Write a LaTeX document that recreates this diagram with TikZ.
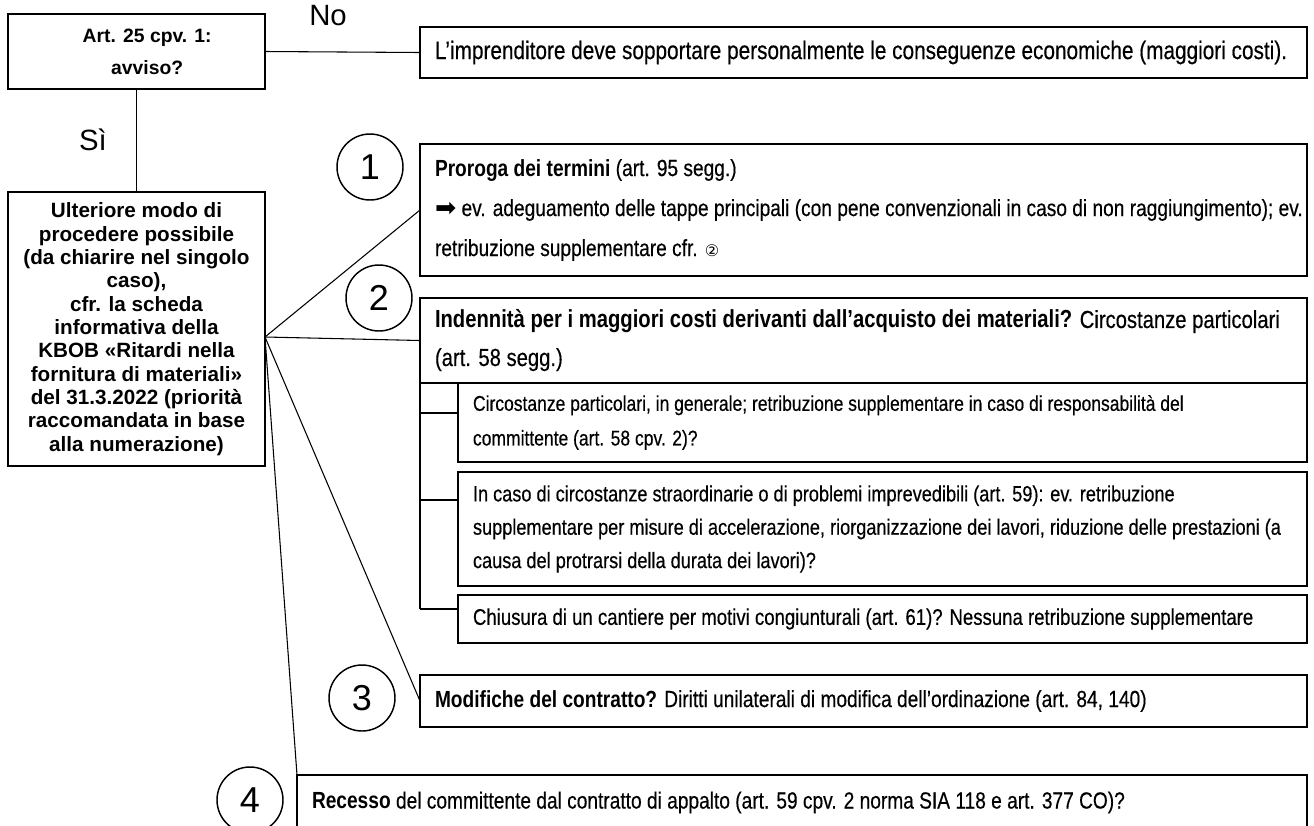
\documentclass[tikz,border=0pt]{standalone}
\usepackage{fontspec}
\setmainfont{Liberation Sans}
\newfontfamily\nar[FakeStretch=0.82, UprightFeatures={FakeBold=0.4}]{Liberation Sans}
\newfontfamily\dvs{DejaVu Sans}
\begin{document}
\begin{tikzpicture}[x=0.75pt,y=-0.75pt,
  every node/.style={inner sep=0pt, outer sep=0pt},
  box/.style={draw, line width=1.1pt, anchor=north west, minimum width=665.25pt},
  subbox/.style={box, minimum width=636.75pt},
  link/.style={line width=0.8pt},
  num/.style={draw, circle, line width=1.1pt, minimum size=49.5pt, font=\fontsize{27}{27}\selectfont},
  btext/.style={anchor=west, align=left, xshift=11.25pt, font=\nar\fontsize{17.5}{30}\selectfont},
  stext/.style={anchor=west, align=left, xshift=11.25pt, font=\nar\fontsize{16}{26}\selectfont},
  lbl/.style={font=\fontsize{22}{22}\selectfont}
]
\clip (0,0) rectangle (1314,825);

% left column
\node[box, minimum width=192.75pt, minimum height=56.25pt] (A) at (8,14) {};
\node[align=center, font=\bfseries\fontsize{14.5}{24}\selectfont, xshift=8pt] (At) at (A.center) {Art. 25 cpv. 1:\\avviso?};
\node[box, minimum width=192.75pt, minimum height=205.5pt] (L) at (8,192) {};
\node[align=center, font=\bfseries\fontsize{15.5}{17.5}\selectfont] (Lt) at (L.center)
  {Ulteriore modo di\\procedere possibile\\(da chiarire nel singolo\\caso),\\cfr. la scheda\\informativa della\\KBOB «Ritardi nella\\fornitura di materiali»\\del 31.3.2022 (priorità\\raccomandata in base\\alla numerazione)};

% "No" branch
\node[box, minimum height=38.25pt] (No) at (420,27) {};
\node[btext, font=\nar\fontsize{19}{26}\selectfont] (Not) at (No.west) {L’imprenditore deve sopportare personalmente le conseguenze economiche (maggiori costi).};
\node[lbl] (lNo) at (328,16) {No};
\node[lbl] (lSi) at (93,140) {Sì};
\draw[link] (A.east) -- (No.west);
\draw[link] (A.south) -- (L.north);

% boxes on the right
\node[box, minimum height=99pt] (B1) at (420,144) {};
\node[btext] (B1t) at (B1.west) {\textbf{Proroga dei termini} (art. 95 segg.)\\
{\dvs\fontsize{19}{30}\selectfont ➡}\ ev. adeguamento delle tappe principali (con pene convenzionali in caso di non raggiungimento); ev.\\
retribuzione supplementare cfr. {\dvs\fontsize{12}{30}\selectfont ②}};

\node[box, minimum height=63.75pt] (B2) at (420,298) {};
\node[btext, font=\nar\fontsize{18.5}{28.5}\selectfont] (B2t) at (B2.west) {\textbf{Indennità per i maggiori costi derivanti dall’acquisto dei materiali?} Circostanze particolari\\(art. 58 segg.)};

\node[subbox, minimum height=59.25pt] (Sa) at (458,383) {};
\node[stext] (Sat) at (Sa.west) {Circostanze particolari, in generale; retribuzione supplementare in caso di responsabilità del\\committente (art. 58 cpv. 2)?};

\node[subbox, minimum height=85.5pt] (Sb) at (458,472) {};
\node[stext, font=\nar\fontsize{16.6}{25}\selectfont] (Sbt) at (Sb.west) {In caso di circostanze straordinarie o di problemi imprevedibili (art. 59): ev. retribuzione\\supplementare per misure di accelerazione, riorganizzazione dei lavori, riduzione delle prestazioni (a\\causa del protrarsi della durata dei lavori)?};

\node[subbox, minimum height=36pt] (Sc) at (458,595) {};
\node[stext, font=\nar\fontsize{17}{26}\selectfont] (Sct) at (Sc.west) {Chiusura di un cantiere per motivi congiunturali (art. 61)? Nessuna retribuzione supplementare};

\node[box, minimum height=39pt] (B3) at (420,675) {};
\node[btext] (B3t) at (B3.west) {\textbf{Modifiche del contratto?} Diritti unilaterali di modifica dell’ordinazione (art. 84, 140)};

\node[box, minimum width=757.5pt, minimum height=41.25pt] (B4) at (297,775) {};
\node[btext] (B4t) at (B4.west) {\textbf{Recesso} del committente dal contratto di appalto (art. 59 cpv. 2 norma SIA 118 e art. 377 CO)?};

% numbered circles
\node[num] (C1) at (370,167) {1};
\node[num] (C2) at (379,298) {2};
\node[num] (C3) at (362,698) {3};
\node[num] (C4) at (250,800) {4};

% fan of connectors
\coordinate (F) at (265,337);
\draw[link] (F) -- (B1.west);
\draw[link] (F) -- (B2.west);
\draw[link] (F) -- (B3.west);
\draw[link] (F) -- (B4.north west);

% bracket for the sub-cases
\coordinate (Ja) at (420,413);
\coordinate (Jb) at (420,500);
\coordinate (Jc) at (420,609);
\draw[link] (B2.south west) -- (Jc);
\draw[link] (Ja) -- (Sa.west |- Ja);
\draw[link] (Jb) -- (Sb.west |- Jb);
\draw[link] (Jc) -- (Sc.west |- Jc);
\end{tikzpicture}
\end{document}
